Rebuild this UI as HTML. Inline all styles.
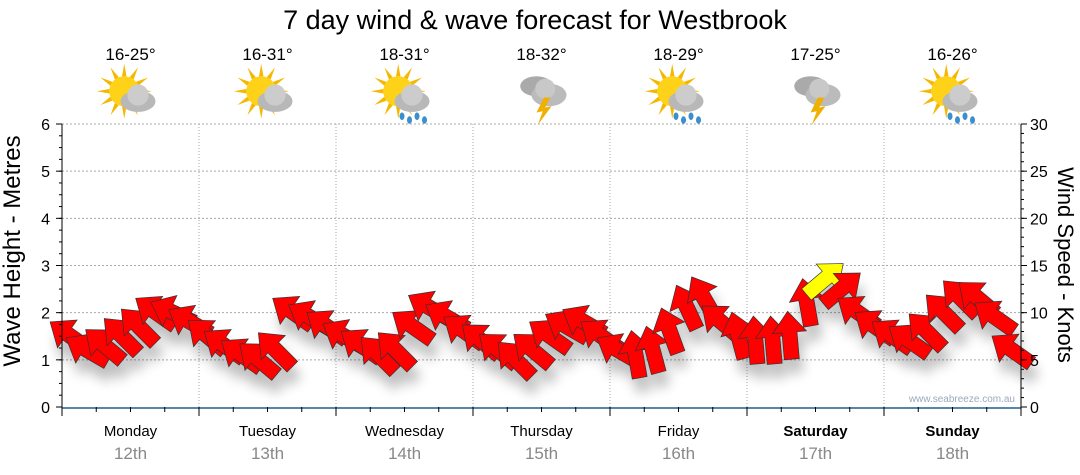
<!DOCTYPE html>
<html><head><meta charset="utf-8"><style>
html,body{margin:0;padding:0;background:#fff}
svg{display:block;font-family:"Liberation Sans",sans-serif}
</style></head><body>
<svg id="chart" width="1080" height="475" viewBox="0 0 1080 475">
<defs><filter id="sh" x="-50%" y="-50%" width="200%" height="200%"><feGaussianBlur stdDeviation="6"/></filter></defs>
<text x="535" y="29" text-anchor="middle" font-size="27" fill="#000">7 day wind &amp; wave forecast for Westbrook</text>
<g id="grid"></g>
<g id="icons"></g>
<g id="shadow" opacity="0.25" filter="url(#sh)"></g>
<g id="arrows"></g>
<g id="axes"></g>
<text x="1015" y="402" text-anchor="end" font-size="10" fill="#9ab">www.seabreeze.com.au</text>
<text transform="translate(20,251) rotate(-90)" text-anchor="middle" font-size="24">Wave Height - Metres</text>
<text transform="translate(1058,265) rotate(90)" text-anchor="middle" font-size="22">Wind Speed - Knots</text>
</svg>
<script>
const days=["Monday","Tuesday","Wednesday","Thursday","Friday","Saturday","Sunday"];
const dates=["12th","13th","14th","15th","16th","17th","18th"];
const temps=["16-25°","16-31°","18-31°","18-32°","18-29°","17-25°","16-26°"];
const weather=["cloudsun","cloudsun","rainsun","storm","rainsun","storm","rainsun"];
const leftTicks=[0,1,2,3,4,5,6];
const rightTicks=[0,5,10,15,20,25,30];
const windSpeed=[7.5,6,6.5,7.5,8.5,10,10,9, 7.5,6.5,5.5,5,6,10,9.5,8.5, 7.5,6.5,5.5,6,8.5,10.5,9.5,8, 7,6,5,6,7.5,8.5,9,7.5, 6,5.5,6,8,10.5,11.5,9,7.5, 7,7,7.5,11,13.5,12.5,10,8.5, 7.5,7,8,10,11.5,11.5,9.5,6];
const windDir=[215,210,220,225,225,215,205,210, 220,215,215,220,225,215,210,215, 210,215,225,225,215,210,210,215, 220,220,225,220,215,210,210,215, 210,260,255,250,245,240,220,255, 265,265,265,260,320,320,215,215, 215,215,225,225,225,220,215,215];
const NS="http://www.w3.org/2000/svg";
const X0=62,X1=1021,Y0=407,Y1=124;
const dayW=(X1-X0)/7;
function xPos(i){return X0+(i+0.5)*(X1-X0)/windSpeed.length;}
function yWave(m){return Y0-(Y0-Y1)*m/6;}
function yWind(k){return Y0-(Y0-Y1)*k/30;}
function mk(tag,attrs,parent){const e=document.createElementNS(NS,tag);for(const k in attrs)e.setAttribute(k,attrs[k]);parent.appendChild(e);return e;}
const grid=document.getElementById('grid'),axes=document.getElementById('axes'),icons=document.getElementById('icons'),arrows=document.getElementById('arrows'),shadow=document.getElementById('shadow');
leftTicks.forEach(v=>{if(v===0)return;
 const l=mk('line',{x1:X0,x2:X1,y1:yWave(v),y2:yWave(v),stroke:'#aaa','stroke-dasharray':'2,2'},grid);
 
 });
for(let d=1;d<7;d++){const x=X0+d*dayW;
 const l=mk('line',{x1:x,x2:x,y1:Y1,y2:Y0,stroke:'#aaa','stroke-dasharray':'1,2'},grid);
 
 }
mk('line',{x1:X0,x2:X0,y1:Y1,y2:Y0,stroke:'#000'},axes);
mk('line',{x1:X1,x2:X1,y1:Y1,y2:Y0,stroke:'#000'},axes);
mk('line',{x1:X0,x2:X1,y1:Y0+1,y2:Y0+1,stroke:'#1f5f8b','stroke-width':1.5},axes);
leftTicks.forEach(v=>{const y=yWave(v);
 mk('line',{x1:X0-6,x2:X0,y1:y,y2:y,stroke:'#000'},axes);
 const t=mk('text',{x:X0-12,y:y+6,'text-anchor':'end','font-size':16},axes);t.textContent=v;
 
 });
for(let v=0;v<=6;v+=0.25){const y=yWave(v);mk('line',{x1:X0-3,x2:X0,y1:y,y2:y,stroke:'#000'},axes);}
rightTicks.forEach(v=>{const y=yWind(v);
 mk('line',{x1:X1,x2:X1+6,y1:y,y2:y,stroke:'#000'},axes);
 const t=mk('text',{x:X1+9,y:y+6,'font-size':16},axes);t.textContent=v;
 
 });
for(let v=0;v<=30;v+=1){const y=yWind(v);mk('line',{x1:X1,x2:X1+3,y1:y,y2:y,stroke:'#000'},axes);}
for(let h=0;h<=56;h++){const x=X0+h*dayW/8;if(h%2)continue;
 mk('line',{x1:x,x2:x,y1:Y0,y2:Y0+(h%8===0?9:5),stroke:'#000'},axes);}
days.forEach((d,i)=>{const cx=X0+(i+0.5)*dayW;
 const bold=i>=5;
 const t=mk('text',{x:cx,y:436,'text-anchor':'middle','font-size':15,'font-weight':bold?'bold':'normal'},axes);t.textContent=d;
 
 
 const t2=mk('text',{x:cx,y:459,'text-anchor':'middle','font-size':17,fill:'#888'},axes);t2.textContent=dates[i];
 
 
 const t3=mk('text',{x:cx,y:60,'text-anchor':'middle','font-size':17},icons);t3.textContent=temps[i];
 
 
 const g=mk('g',{transform:`translate(${cx},95) scale(1.25)`},icons);
 
 
 const w=weather[i];
 if(w!=='storm'){
  for(let a=0;a<360;a+=30){const r=a*Math.PI/180;
   mk('polygon',{points:`${-5+Math.cos(r-0.15)*12},${-3+Math.sin(r-0.15)*12} ${-5+Math.cos(r)*22},${-3+Math.sin(r)*22} ${-5+Math.cos(r+0.15)*12},${-3+Math.sin(r+0.15)*12}`,fill:'#f5b800'},g);}
  mk('circle',{cx:-5,cy:-3,r:12,fill:'#ffd21a'},g);
  mk('ellipse',{cx:6,cy:5,rx:14,ry:8.5,fill:'#b8b8b8'},g);
  mk('circle',{cx:6,cy:0,r:8.5,fill:'#ccc'},g);
 } else {
  mk('ellipse',{cx:-4,cy:-7,rx:13,ry:8,fill:'#aaa'},g);
  mk('ellipse',{cx:6,cy:0,rx:14,ry:9,fill:'#bbb'},g);
  mk('circle',{cx:3,cy:-5,r:8,fill:'#c8c8c8'},g);
  mk('polygon',{points:'2,2 -4,14 1,13 -3,24 8,9 3,10 7,2',fill:'#f0b000'},g);
 }
 if(w==='rainsun'){for(let k=0;k<4;k++)mk('ellipse',{cx:-2+k*6,cy:17+(k%2)*3,rx:2,ry:3,fill:'#3a8fd0'},g);}
});
const shape="25,0 4,-17 4,-7.5 -23,-7.5 -23,7.5 4,7.5 4,17";
windSpeed.forEach((v,i)=>{
 const tr=`translate(${xPos(i)},${yWind(v)}) rotate(${windDir[i]})`;
 mk('polygon',{points:shape,fill:'#000',transform:`translate(4,14) `+tr},shadow);
 const p=mk('polygon',{points:shape,fill:v>=13?'#ffff00':'#ff0000',stroke:'#333','stroke-width':0.7,transform:tr},arrows);
 
 
});
</script>
</body></html>
